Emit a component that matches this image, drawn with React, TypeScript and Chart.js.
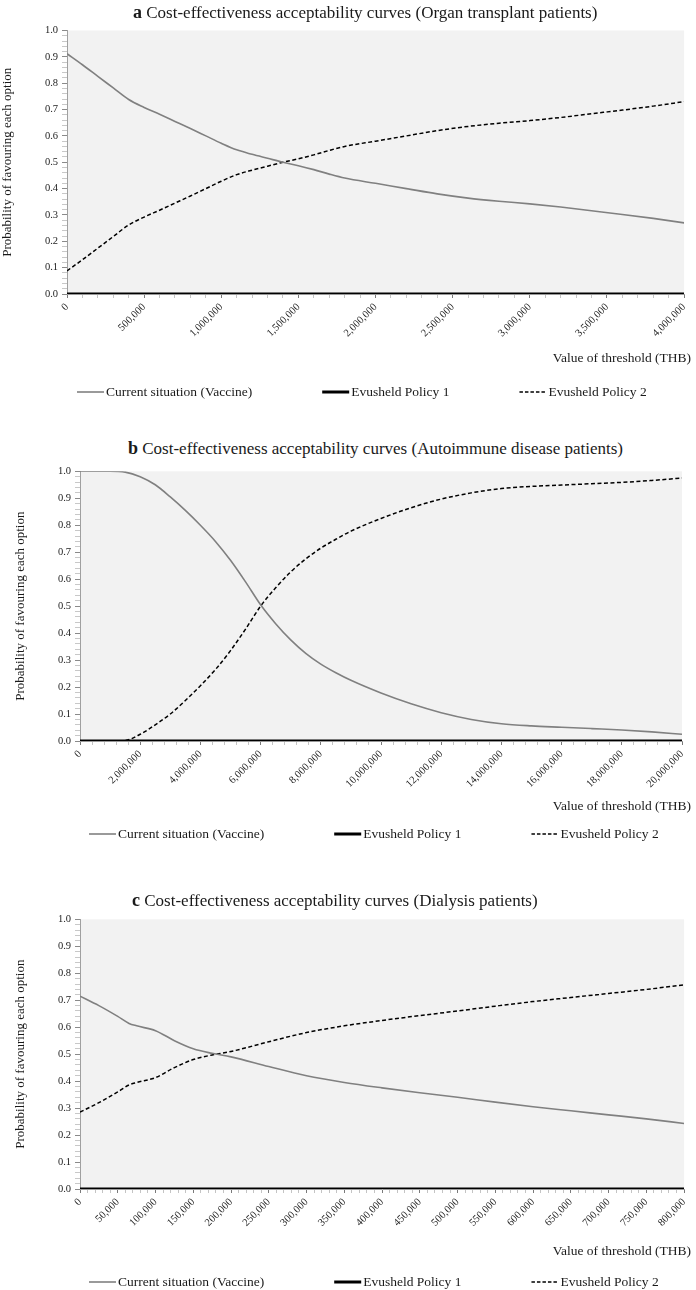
import React, { useEffect, useRef } from 'react';
import { Chart, registerables } from 'chart.js';

Chart.register(...registerables);

const SERIF = "'Liberation Serif', 'Times New Roman', serif";

// ---------------- shared text ----------------
const SERIES_LABELS = ['Current situation (Vaccine)', 'Evusheld Policy 1', 'Evusheld Policy 2'];
const Y_AXIS_TITLE = 'Probability of favouring each option';
const X_AXIS_TITLE = 'Value of threshold (THB)';
const Y_MIN = 0;
const Y_MAX = 1;
const Y_MAJOR = 0.1;
const Y_MINOR = 0.02;

// ---------------- panel a ----------------
const A_LETTER = 'a';
const A_TITLE = 'Cost-effectiveness acceptability curves (Organ transplant patients)';
const A_THRESHOLDS = [0, 100000, 200000, 300000, 400000, 500000, 600000, 700000, 800000, 900000, 1000000, 1100000, 1200000, 1300000, 1400000, 1500000, 1600000, 1700000, 1800000, 2000000, 2200000, 2400000, 2600000, 2800000, 3000000, 3200000, 3400000, 3600000, 3800000, 4000000];
const A_VACCINE = [0.912, 0.87, 0.826, 0.782, 0.738, 0.708, 0.682, 0.655, 0.628, 0.6, 0.572, 0.547, 0.53, 0.515, 0.5, 0.487, 0.472, 0.455, 0.44, 0.42, 0.4, 0.38, 0.364, 0.352, 0.342, 0.33, 0.316, 0.302, 0.287, 0.27];
const A_POLICY1 = [0, 0, 0, 0, 0, 0, 0, 0, 0, 0, 0, 0, 0, 0, 0, 0, 0, 0, 0, 0, 0, 0, 0, 0, 0, 0, 0, 0, 0, 0];
const A_POLICY2 = [0.088, 0.13, 0.174, 0.218, 0.262, 0.292, 0.318, 0.345, 0.372, 0.4, 0.428, 0.453, 0.47, 0.485, 0.5, 0.513, 0.528, 0.545, 0.56, 0.58, 0.6, 0.62, 0.636, 0.648, 0.658, 0.67, 0.684, 0.698, 0.713, 0.73];
const A_X_MAX = 4000000;
const A_X_MAJOR = 500000;
const A_X_MINOR = 100000;

// ---------------- panel b ----------------
const B_LETTER = 'b';
const B_TITLE = 'Cost-effectiveness acceptability curves (Autoimmune disease patients)';
const B_THRESHOLDS = [0, 1000000, 1500000, 2000000, 2500000, 3000000, 3500000, 4000000, 4500000, 5000000, 5500000, 6000000, 6500000, 7000000, 7500000, 8000000, 8500000, 9000000, 10000000, 11000000, 12000000, 13000000, 14000000, 15000000, 16000000, 17000000, 18000000, 19000000, 20000000];
const B_VACCINE = [1.0, 1.0, 0.997, 0.98, 0.95, 0.905, 0.855, 0.8, 0.74, 0.67, 0.59, 0.505, 0.435, 0.375, 0.325, 0.285, 0.253, 0.225, 0.178, 0.138, 0.105, 0.08, 0.064, 0.056, 0.051, 0.046, 0.041, 0.034, 0.025];
const B_POLICY1 = [0, 0, 0, 0, 0, 0, 0, 0, 0, 0, 0, 0, 0, 0, 0, 0, 0, 0, 0, 0, 0, 0, 0, 0, 0, 0, 0, 0, 0];
const B_POLICY2 = [0, 0, 0.002, 0.025, 0.06, 0.1, 0.15, 0.205, 0.265, 0.335, 0.415, 0.5, 0.568, 0.627, 0.675, 0.715, 0.748, 0.778, 0.825, 0.865, 0.897, 0.92, 0.936, 0.944, 0.949, 0.954, 0.959, 0.966, 0.975];
const B_X_MAX = 20000000;
const B_X_MAJOR = 2000000;
const B_X_MINOR = 400000;

// ---------------- panel c ----------------
const C_LETTER = 'c';
const C_TITLE = 'Cost-effectiveness acceptability curves (Dialysis patients)';
const C_THRESHOLDS = [0, 25000, 50000, 65000, 75000, 100000, 125000, 150000, 175000, 200000, 250000, 300000, 350000, 400000, 450000, 500000, 550000, 600000, 650000, 700000, 750000, 800000];
const C_VACCINE = [0.715, 0.68, 0.64, 0.614, 0.605, 0.587, 0.55, 0.52, 0.503, 0.49, 0.454, 0.42, 0.395, 0.375, 0.357, 0.34, 0.322, 0.305, 0.29, 0.275, 0.26, 0.243];
const C_POLICY1 = [0, 0, 0, 0, 0, 0, 0, 0, 0, 0, 0, 0, 0, 0, 0, 0, 0, 0, 0, 0, 0, 0];
const C_POLICY2 = [0.285, 0.32, 0.36, 0.386, 0.395, 0.413, 0.45, 0.48, 0.497, 0.51, 0.546, 0.58, 0.605, 0.625, 0.643, 0.66, 0.678, 0.695, 0.71, 0.725, 0.74, 0.757];
const C_X_MAX = 800000;
const C_X_MAJOR = 50000;
const C_X_MINOR = 10000;

// ---------------- layout (positions only) ----------------
type Layout = {
  plotTop: number; plotBottom: number; plotLeft: number; plotRight: number;
  canvasTop: number; canvasH: number; xAxisH: number; yTitlePad: number;
  titleLeft: number; titleCenter: number;
  xTitleRight: number; xTitleOffset: number;
  legendLeft: number; legendOffset: number; legendGap: number;
};

const LAYOUT_A: Layout = {
  plotTop: 30.5, plotBottom: 294, plotLeft: 67, plotRight: 685,
  canvasTop: 20, canvasH: 385, xAxisH: 50, yTitlePad: 0,
  titleLeft: 133, titleCenter: 12,
  xTitleRight: 691, xTitleOffset: 64,
  legendLeft: 77, legendOffset: 98, legendGap: 70,
};
const LAYOUT_B: Layout = {
  plotTop: 471, plotBottom: 741, plotLeft: 80, plotRight: 682,
  canvasTop: 461, canvasH: 390, xAxisH: 50, yTitlePad: 13,
  titleLeft: 128, titleCenter: 448,
  xTitleRight: 691, xTitleOffset: 65,
  legendLeft: 89, legendOffset: 93, legendGap: 70,
};
const LAYOUT_C: Layout = {
  plotTop: 919, plotBottom: 1189, plotLeft: 80, plotRight: 685,
  canvasTop: 909, canvasH: 381, xAxisH: 50, yTitlePad: 13,
  titleLeft: 132, titleCenter: 900,
  xTitleRight: 691, xTitleOffset: 62,
  legendLeft: 89, legendOffset: 93, legendGap: 70,
};

const isMultiple = (v: number, step: number) => Math.abs(v / step - Math.round(v / step)) < 1e-6;

const extrasPlugin = {
  id: 'panelExtras',
  beforeDraw(chart: any) {
    const { ctx, chartArea: ca } = chart;
    ctx.save();
    ctx.fillStyle = '#f2f2f2';
    ctx.fillRect(ca.left, ca.top, ca.right - ca.left, ca.bottom - ca.top);
    ctx.restore();
  },
  afterDraw(chart: any, _args: any, opts: any) {
    const { ctx, chartArea: ca } = chart;
    ctx.save();
    ctx.fillStyle = '#1a1a1a';
    ctx.font = `13.5px ${SERIF}`;
    ctx.textBaseline = 'middle';
    ctx.textAlign = 'right';
    ctx.fillText(X_AXIS_TITLE, opts.xTitleRight, ca.bottom + opts.xTitleOffset);
    ctx.textAlign = 'left';
    let x = opts.legendLeft;
    const y = ca.bottom + opts.legendOffset;
    chart.data.datasets.forEach((ds: any) => {
      ctx.save();
      ctx.strokeStyle = ds.borderColor;
      ctx.lineWidth = ds.borderWidth;
      ctx.setLineDash(ds.legendDash || []);
      ctx.beginPath();
      ctx.moveTo(x, y);
      ctx.lineTo(x + 27, y);
      ctx.stroke();
      ctx.restore();
      x += 29;
      ctx.fillText(ds.label, x, y);
      x += ctx.measureText(ds.label).width + opts.legendGap;
    });
    ctx.restore();
  },
};

type PanelProps = {
  letter: string; title: string; layout: Layout;
  thresholds: number[]; vaccine: number[]; policy1: number[]; policy2: number[];
  xMax: number; xMajor: number; xMinor: number;
};

function Panel(p: PanelProps) {
  const ref = useRef<HTMLCanvasElement>(null);
  const L = p.layout;
  useEffect(() => {
    const pts = (vals: number[]) => vals.map((v, i) => ({ x: p.thresholds[i], y: v }));
    const padTop = L.plotTop - L.canvasTop;
    const padBottom = L.canvasH - L.xAxisH - (L.plotBottom - L.canvasTop);
    const chart = new Chart(ref.current as HTMLCanvasElement, {
      type: 'line',
      data: {
        datasets: [
          {
            label: SERIES_LABELS[0], data: pts(p.vaccine), borderColor: '#808080', backgroundColor: '#808080',
            borderWidth: 1.6, pointRadius: 0, cubicInterpolationMode: 'monotone', legendDash: [],
          } as any,
          {
            label: SERIES_LABELS[1], data: pts(p.policy1), borderColor: '#000000', backgroundColor: '#000000',
            borderWidth: 3, pointRadius: 0, legendDash: [],
          } as any,
          {
            label: SERIES_LABELS[2], data: pts(p.policy2), borderColor: '#000000', backgroundColor: '#000000',
            borderWidth: 1.5, borderDash: [4, 2.5], pointRadius: 0, cubicInterpolationMode: 'monotone', legendDash: [3.5, 2],
          } as any,
        ],
      },
      options: {
        responsive: false,
        maintainAspectRatio: false,
        animation: false,
        devicePixelRatio: 1,
        layout: { padding: { top: padTop, bottom: padBottom, left: 0, right: 696 - L.plotRight } },
        plugins: {
          legend: { display: false },
          tooltip: { enabled: false },
          panelExtras: {
            xTitleRight: L.xTitleRight, xTitleOffset: L.xTitleOffset,
            legendLeft: L.legendLeft, legendOffset: L.legendOffset, legendGap: L.legendGap,
          },
        } as any,
        scales: {
          x: {
            type: 'linear',
            min: 0,
            max: p.xMax,
            afterFit: (s: any) => { s.height = L.xAxisH; },
            border: { display: true, color: '#999999' },
            grid: {
              drawOnChartArea: false, drawTicks: true, tickLength: 4,
              tickColor: (c: any) => (isMultiple(c.tick.value, p.xMajor) ? '#7a7a7a' : '#c4c4c4'),
            },
            ticks: {
              stepSize: p.xMinor,
              autoSkip: false,
              maxRotation: 45,
              minRotation: 45,
              padding: 3,
              color: '#222222',
              font: { family: SERIF, size: 10.5 },
              callback: (v: any) => (isMultiple(Number(v), p.xMajor) ? Number(v).toLocaleString('en-US') : ''),
            },
          },
          y: {
            type: 'linear',
            min: Y_MIN,
            max: Y_MAX,
            afterFit: (s: any) => { s.width = L.plotLeft; },
            border: { display: true, color: '#a0a0a0' },
            grid: {
              drawOnChartArea: false, drawTicks: true, tickLength: 5,
              tickColor: (c: any) => (isMultiple(c.tick.value, Y_MAJOR) ? '#8a8a8a' : '#c8c8c8'),
            },
            ticks: {
              stepSize: Y_MINOR,
              autoSkip: false,
              padding: 4,
              color: '#222222',
              font: { family: SERIF, size: 10.5 },
              callback: (v: any) => (isMultiple(Number(v), Y_MAJOR) ? Number(v).toFixed(1) : ''),
            },
            title: {
              display: true,
              text: Y_AXIS_TITLE,
              color: '#1a1a1a',
              font: { family: SERIF, size: 13 },
              padding: { top: L.yTitlePad, bottom: 0 },
            },
          },
        },
      },
      plugins: [extrasPlugin as any],
    });
    return () => chart.destroy();
  }, []);

  return (
    <>
      <canvas
        ref={ref}
        width={696}
        height={L.canvasH}
        style={{ position: 'absolute', left: 0, top: L.canvasTop, width: 696, height: L.canvasH }}
      />
      <div
        style={{
          position: 'absolute', left: L.titleLeft, top: L.titleCenter - 11, height: 22, lineHeight: '22px',
          fontFamily: SERIF, fontSize: 17, color: '#1a1a1a', whiteSpace: 'nowrap',
        }}
      >
        <b style={{ fontSize: 18 }}>{p.letter}</b> {p.title}
      </div>
    </>
  );
}

export default function App() {
  return (
    <div style={{ position: 'absolute', left: 0, top: 0, width: 696, height: 1290, background: '#ffffff', overflow: 'hidden' }}>
      <Panel letter={A_LETTER} title={A_TITLE} layout={LAYOUT_A} thresholds={A_THRESHOLDS}
        vaccine={A_VACCINE} policy1={A_POLICY1} policy2={A_POLICY2} xMax={A_X_MAX} xMajor={A_X_MAJOR} xMinor={A_X_MINOR} />
      <Panel letter={B_LETTER} title={B_TITLE} layout={LAYOUT_B} thresholds={B_THRESHOLDS}
        vaccine={B_VACCINE} policy1={B_POLICY1} policy2={B_POLICY2} xMax={B_X_MAX} xMajor={B_X_MAJOR} xMinor={B_X_MINOR} />
      <Panel letter={C_LETTER} title={C_TITLE} layout={LAYOUT_C} thresholds={C_THRESHOLDS}
        vaccine={C_VACCINE} policy1={C_POLICY1} policy2={C_POLICY2} xMax={C_X_MAX} xMajor={C_X_MAJOR} xMinor={C_X_MINOR} />
    </div>
  );
}
